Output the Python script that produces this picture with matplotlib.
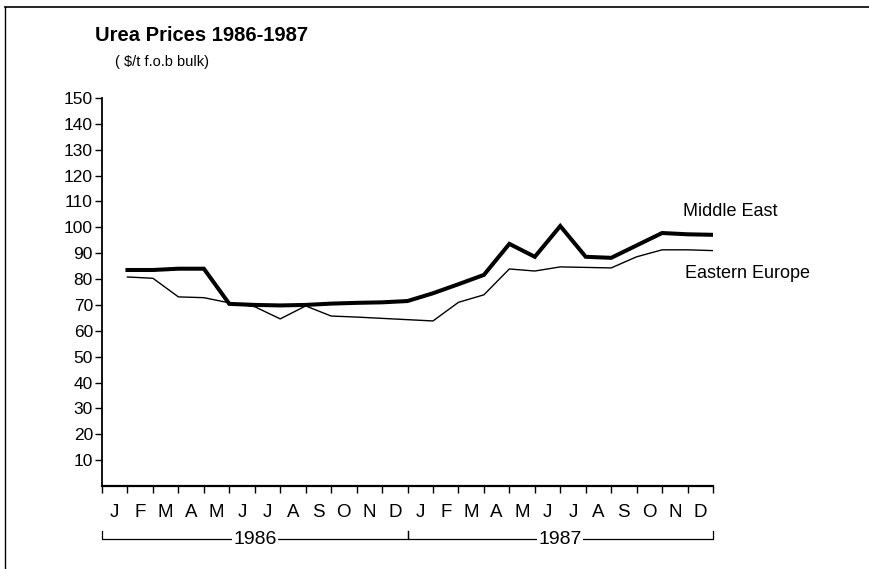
import matplotlib
matplotlib.use("Agg")
import matplotlib.pyplot as plt
import matplotlib.transforms as mtransforms
import numpy as np

plt.rcParams['font.family'] = ['Liberation Sans', 'DejaVu Sans']

# monthly prices, Jan 1986 - Dec 1987 ($/t f.o.b bulk)
months = ['J', 'F', 'M', 'A', 'M', 'J', 'J', 'A', 'S', 'O', 'N', 'D'] * 2
years = ['1986', '1987']
middle_east = [83.5, 83.5, 84.0, 84.0, 70.4, 70.0, 69.8, 70.0, 70.5, 70.8, 71.0, 71.5,
               74.5, 78.0, 81.6, 93.6, 88.6, 100.5, 88.6, 88.2, 93.0, 97.8, 97.3, 97.1]
eastern_europe = [80.8, 80.3, 73.1, 72.8, 70.8, 69.3, 64.6, 69.6, 65.7, 65.3, 64.8, 64.3,
                  63.8, 71.0, 73.9, 83.9, 83.1, 84.7, 84.5, 84.3, 88.6, 91.3, 91.3, 91.0]
yticks = list(range(10, 151, 10))

fig = plt.figure(figsize=(8.69, 5.69), dpi=100)
ax = fig.add_axes([0.1174, 0.1459, 0.7031, 0.6819])

x = np.arange(1, len(middle_east) + 1)
ax.plot(x, middle_east, color='k', lw=2.9, solid_joinstyle='miter')
ax.plot(x, eastern_europe, color='k', lw=1.0)

ax.set_xlim(0, len(months))
ax.set_ylim(0, 150)
for s in ['top', 'right']:
    ax.spines[s].set_visible(False)
ax.spines['left'].set_linewidth(1.3)
ax.spines['bottom'].set_linewidth(1.6)

ax.set_yticks(yticks)
ax.set_yticklabels([str(v) for v in yticks])
ax.tick_params(axis='y', direction='out', length=5, width=1, pad=1.5, labelsize=12.5)

ax.set_xticks(np.arange(0, len(months) + 1))
ax.set_xticklabels([])
ax.set_xticks(np.arange(len(months)) + 0.5, minor=True)
ax.set_xticklabels(months, minor=True)
ax.tick_params(axis='x', which='major', direction='out', length=5, width=1)
ax.tick_params(axis='x', which='minor', length=0, pad=13, labelsize=13.5)

# year brackets under month labels
tr = mtransforms.blended_transform_factory(ax.transData, ax.transAxes)
yb = -0.137
for i, yr in enumerate(years):
    x0, x1 = 12 * i, 12 * (i + 1)
    ax.plot([x0, x0, x1, x1], [yb + 0.02, yb, yb, yb + 0.02], color='k', lw=0.9,
            transform=tr, clip_on=False)
    ax.text((x0 + x1) / 2, yb, yr, transform=tr, ha='center', va='center', fontsize=14,
            bbox=dict(facecolor='white', edgecolor='none', pad=1))

ax.text(22.82, 106, 'Middle East', fontsize=13, va='center', ha='left')
ax.text(22.9, 82, 'Eastern Europe', fontsize=13, va='center', ha='left')

fig.text(0.109, 0.938, 'Urea Prices 1986-1987', fontsize=14.5, fontweight='bold',
         va='center', ha='left')
fig.text(0.132, 0.891, '( $/t f.o.b bulk)', fontsize=10.5, va='center', ha='left')

# frame lines at top and left of the page
fig.add_artist(plt.Line2D([0.006, 1.0], [0.988, 0.988], color='k', lw=1.2,
                          transform=fig.transFigure))
fig.add_artist(plt.Line2D([0.006, 0.006], [0.0, 0.988], color='k', lw=1.0,
                          transform=fig.transFigure))

fig.savefig('out.png', dpi=100)
